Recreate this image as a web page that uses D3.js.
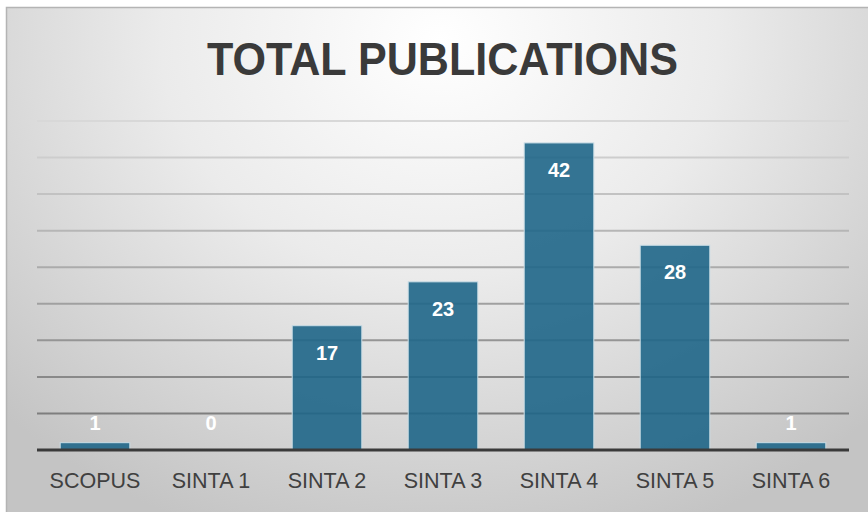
<!DOCTYPE html>
<html>
<head>
<meta charset="utf-8">
<script src="https://cdn.jsdelivr.net/npm/d3@7"></script>
<style>
  html, body { margin: 0; padding: 0; background: #ffffff; }
  svg { display: block; }
</style>
</head>
<body>
<svg id="chart" width="868" height="512"></svg>
<script>
const categories = ["SCOPUS", "SINTA 1", "SINTA 2", "SINTA 3", "SINTA 4", "SINTA 5", "SINTA 6"];
const values = [1, 0, 17, 23, 42, 28, 1];
const gridTicks = [5, 10, 15, 20, 25, 30, 35, 40, 45];
const title = "TOTAL PUBLICATIONS";

const svg = d3.select("#chart");
const W = 868, H = 512;

const defs = svg.append("defs");
const grad = defs.append("radialGradient")
  .attr("id", "bg").attr("gradientUnits", "userSpaceOnUse")
  .attr("cx", 440).attr("cy", 40).attr("r", 620)
  .attr("gradientTransform", "translate(440,40) scale(1,0.85) translate(-440,-40)");
grad.append("stop").attr("offset", "0%").attr("stop-color", "#ffffff");
grad.append("stop").attr("offset", "45%").attr("stop-color", "#ebebeb");
grad.append("stop").attr("offset", "100%").attr("stop-color", "#c4c4c4");

svg.append("rect")
  .attr("x", 6.5).attr("y", 7.5).attr("width", W).attr("height", H)
  .attr("fill", "url(#bg)").attr("stroke", "#b4b4b4").attr("stroke-width", 1.5);

const x = d3.scaleBand().domain(categories).range([37, 849]).paddingInner(0.4).paddingOuter(0.2);
const y = d3.scaleLinear().domain([0, 45]).range([450, 121]);
const gridColor = d3.scaleLinear().domain([5, 45]).range(["#7e7e7e", "#d8d8d8"]);

// gridlines
svg.append("g").selectAll("line").data(gridTicks).join("line")
  .attr("x1", 37).attr("x2", 849)
  .attr("y1", d => y(d)).attr("y2", d => y(d))
  .attr("stroke", d => gridColor(d)).attr("stroke-width", 2);

// bars
svg.append("g").selectAll("rect").data(values).join("rect")
  .attr("x", (d, i) => x(categories[i]))
  .attr("y", d => y(d))
  .attr("width", x.bandwidth())
  .attr("height", d => y(0) - y(d))
  .attr("fill", "#1f6688").attr("fill-opacity", 0.9)
  .attr("stroke", "#c9dde6").attr("stroke-width", 1);

// baseline
svg.append("line")
  .attr("x1", 37).attr("x2", 849).attr("y1", y(0)).attr("y2", y(0))
  .attr("stroke", "#3a3a3a").attr("stroke-width", 3);

// value labels
svg.append("g").selectAll("text").data(values).join("text")
  .attr("x", (d, i) => x(categories[i]) + x.bandwidth() / 2)
  .attr("y", d => Math.min(y(d) + 27, y(0) - 27))
  .attr("dy", "0.35em")
  .attr("text-anchor", "middle")
  .attr("font-family", "Liberation Sans, Arial, sans-serif")
  .attr("font-weight", "bold").attr("font-size", 20)
  .attr("fill", "#ffffff")
  .text(d => d);

// x axis labels
svg.append("g").selectAll("text").data(categories).join("text")
  .attr("x", d => x(d) + x.bandwidth() / 2)
  .attr("y", 480).attr("dy", "0.35em")
  .attr("text-anchor", "middle")
  .attr("font-family", "Liberation Sans, Arial, sans-serif")
  .attr("font-size", 21.5).attr("fill", "#404040")
  .text(d => d);

// title
svg.append("text")
  .attr("x", 442.5).attr("y", 59).attr("dy", "0.35em")
  .attr("text-anchor", "middle")
  .attr("font-family", "Liberation Sans, Arial, sans-serif")
  .attr("font-weight", "bold").attr("font-size", 47)
  .attr("fill", "#3a3a3a")
  .attr("textLength", 471).attr("lengthAdjust", "spacingAndGlyphs")
  .text(title);
</script>
</body>
</html>
